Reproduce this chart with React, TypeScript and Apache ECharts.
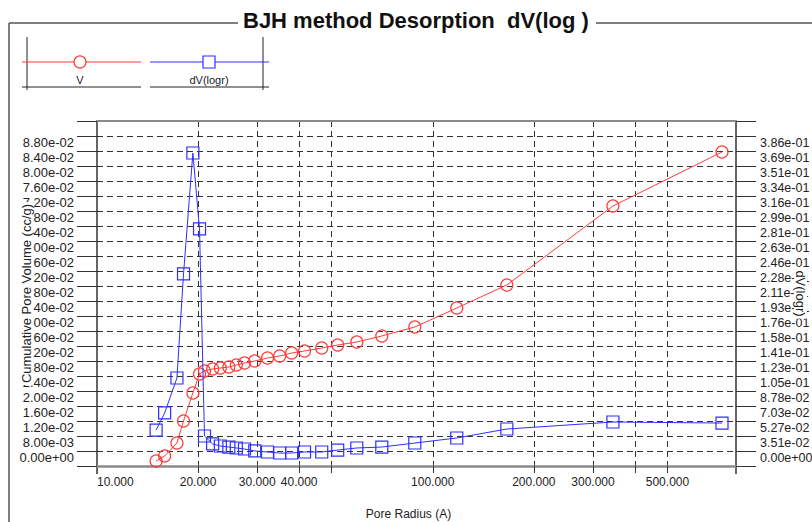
import React, { useEffect, useRef } from 'react';
import * as echarts from 'echarts';

// ---- data ----
const poreRadius = [15.0, 15.9, 17.3, 18.1, 19.3, 20.2, 20.9, 22.1, 23.3, 24.7, 26.0, 27.5, 29.5, 32.2, 35.0, 38.0, 41.5, 46.7, 52.1, 59.4, 70.5, 88.4, 117.9, 166.2, 344.0, 726.8];
const cumulativeVolume = [0.00133, 0.00267, 0.00613, 0.0120, 0.01947, 0.02453, 0.02533, 0.02587, 0.02613, 0.0264, 0.02693, 0.02747, 0.0280, 0.0288, 0.02933, 0.03013, 0.03067, 0.03147, 0.03227, 0.03307, 0.03467, 0.03707, 0.04213, 0.04827, 0.06933, 0.08373];
const dVlogr = [0.0421, 0.0621, 0.1030, 0.2248, 0.3664, 0.2775, 0.0351, 0.0258, 0.0234, 0.0222, 0.0211, 0.0199, 0.0176, 0.0164, 0.0152, 0.0152, 0.0164, 0.0164, 0.0187, 0.0211, 0.0222, 0.0269, 0.0328, 0.0433, 0.0515, 0.0503];

const xLabelValues = [10, 20, 30, 40, 100, 200, 300, 500];
const xTickValues = [20, 30, 40, 50, 100, 200, 300, 400, 500];
const leftTickLabels = ['0.00e+00', '8.00e-03', '1.20e-02', '1.60e-02', '2.00e-02', '2.40e-02', '2.80e-02', '3.20e-02', '3.60e-02', '4.00e-02', '4.40e-02', '4.80e-02', '5.20e-02', '5.60e-02', '6.00e-02', '6.40e-02', '6.80e-02', '7.20e-02', '7.60e-02', '8.00e-02', '8.40e-02', '8.80e-02'];
const rightTickLabels = ['0.00e+00', '3.51e-02', '5.27e-02', '7.03e-02', '8.78e-02', '1.05e-01', '1.23e-01', '1.41e-01', '1.58e-01', '1.76e-01', '1.93e-01', '2.11e-01', '2.28e-01', '2.46e-01', '2.63e-01', '2.81e-01', '2.99e-01', '3.16e-01', '3.34e-01', '3.51e-01', '3.69e-01', '3.86e-01'];

const LEFT_STEP = 0.004;
const RIGHT_STEP = 0.01756;
const STEPS = 23;

const RED = '#ff3b3b';
const BLUE = '#2f2fff';
const FONT = 'Liberation Sans, Arial, sans-serif';

export default function App() {
  const ref = useRef<HTMLDivElement>(null);

  useEffect(() => {
    if (!ref.current) return;
    const chart = echarts.init(ref.current, undefined, { renderer: 'svg' });

    const labelAt = (labels: string[], step: number) => (v: number) => {
      const i = Math.round(v / step);
      return i >= 1 && i <= labels.length ? labels[i - 1] : '';
    };

    const gridLine = { color: '#333', width: 1, type: [6, 4] as any };

    // axis that only carries a name, drawn above the tick labels
    const nameAxis = (position: string, name: string, rotate: number, gap: number) => ({
      type: 'value',
      min: 0,
      max: 1,
      position,
      z: 5,
      name,
      nameLocation: 'middle',
      nameRotate: rotate,
      nameGap: gap,
      nameMoveOverlap: false,
      nameTextStyle: { fontSize: 13, color: '#222', backgroundColor: '#fff', padding: [0, 2, 0, 2] },
      axisLine: { show: false },
      axisTick: { show: false },
      axisLabel: { show: false },
      splitLine: { show: false },
    });

    const option: any = {
      animation: false,
      backgroundColor: '#fff',
      textStyle: { fontFamily: FONT },
      title: {
        text: 'BJH method Desorption  dV(log )',
        left: 243,
        top: 9,
        padding: 0,
        textStyle: { fontSize: 22, fontWeight: 'bold', color: '#111', fontFamily: FONT },
      },
      grid: { left: 97, right: 76, top: 121, bottom: 56, containLabel: false, outerBoundsMode: 'none' },
      xAxis: [
        {
          type: 'log',
          logBase: 10,
          min: 10,
          max: 800,
          position: 'bottom',
          name: 'Pore Radius (A)',
          nameLocation: 'middle',
          nameGap: 42,
          nameMoveOverlap: false,
          nameTextStyle: { fontSize: 12, color: '#222', padding: [0, 16, 0, 0] },
          axisLine: { show: true, onZero: false, lineStyle: { color: '#8a8a8a', width: 2.5 } },
          axisTick: { show: true, customValues: xTickValues, length: 7, lineStyle: { color: '#333' } },
          axisLabel: {
            customValues: xLabelValues,
            formatter: (v: number) => Number(v).toFixed(3),
            margin: 10,
            fontSize: 12,
            color: '#222',
            alignMinLabel: 'left',
          },
          splitLine: { show: true, lineStyle: gridLine },
          minorTick: { show: false },
          minorSplitLine: { show: false },
        },
        {
          type: 'log',
          logBase: 10,
          min: 10,
          max: 800,
          position: 'top',
          axisLine: { show: true, onZero: false, lineStyle: { color: '#8a8a8a', width: 2 } },
          axisTick: { show: false },
          axisLabel: { show: false },
          splitLine: { show: false },
        },
      ],
      yAxis: [
        {
          type: 'value',
          min: 0,
          max: LEFT_STEP * STEPS,
          interval: LEFT_STEP,
          position: 'left',
          axisLine: { show: true, onZero: false, lineStyle: { color: '#333', width: 1.5 } },
          axisTick: { show: true, length: 20, lineStyle: { color: '#333' } },
          axisLabel: {
            formatter: labelAt(leftTickLabels, LEFT_STEP),
            verticalAlign: 'top',
            margin: 23,
            fontSize: 13,
            color: '#222',
          },
          splitLine: { show: true, lineStyle: gridLine },
        },
        {
          type: 'value',
          min: 0,
          max: RIGHT_STEP * STEPS,
          interval: RIGHT_STEP,
          position: 'right',
          axisLine: { show: true, onZero: false, lineStyle: { color: '#333', width: 1.5 } },
          axisTick: { show: true, length: 20, lineStyle: { color: '#333' } },
          axisLabel: {
            formatter: labelAt(rightTickLabels, RIGHT_STEP),
            verticalAlign: 'top',
            margin: 24,
            fontSize: 12.5,
            color: '#222',
          },
          splitLine: { show: false },
        },
        nameAxis('left', 'Cumulative Pore Volume (cc/g)', 90, 64),
        nameAxis('right', 'dV(logr)', -90, 58),
      ],
      series: [
        {
          name: 'V',
          type: 'line',
          xAxisIndex: 0,
          yAxisIndex: 0,
          data: poreRadius.map((r, i) => [r, cumulativeVolume[i]]),
          symbol: 'circle',
          symbolSize: 12,
          itemStyle: { color: 'rgba(255,255,255,0)', borderColor: RED, borderWidth: 1.2 },
          lineStyle: { color: RED, width: 1 },
          z: 3,
        },
        {
          name: 'dV(logr)',
          type: 'line',
          xAxisIndex: 0,
          yAxisIndex: 1,
          data: poreRadius.map((r, i) => [r, dVlogr[i]]),
          symbol: 'rect',
          symbolSize: 12,
          itemStyle: { color: 'rgba(255,255,255,0)', borderColor: BLUE, borderWidth: 1.2 },
          lineStyle: { color: BLUE, width: 1 },
          z: 4,
        },
      ],
      graphic: [
        // outer frame
        { type: 'line', shape: { x1: 9, y1: 23, x2: 9, y2: 522 }, style: { stroke: '#555', lineWidth: 1.5 } },
        { type: 'line', shape: { x1: 9, y1: 23, x2: 238, y2: 23 }, style: { stroke: '#555', lineWidth: 1.5 } },
        { type: 'line', shape: { x1: 596, y1: 23, x2: 812, y2: 23 }, style: { stroke: '#555', lineWidth: 1.5 } },
        // axis line extensions below the x axis
        { type: 'line', shape: { x1: 97, y1: 466, x2: 97, y2: 474 }, style: { stroke: '#333', lineWidth: 1.5 } },
        { type: 'line', shape: { x1: 736, y1: 466, x2: 736, y2: 474 }, style: { stroke: '#333', lineWidth: 1.5 } },
        // legend box
        { type: 'line', shape: { x1: 27, y1: 37, x2: 27, y2: 90 }, style: { stroke: '#222', lineWidth: 1 } },
        { type: 'line', shape: { x1: 263, y1: 37, x2: 263, y2: 90 }, style: { stroke: '#222', lineWidth: 1 } },
        { type: 'line', shape: { x1: 22, y1: 87, x2: 141, y2: 87 }, style: { stroke: '#222', lineWidth: 1 } },
        { type: 'line', shape: { x1: 150, y1: 87, x2: 269, y2: 87 }, style: { stroke: '#222', lineWidth: 1 } },
        { type: 'line', shape: { x1: 22, y1: 62, x2: 141, y2: 62 }, style: { stroke: RED, lineWidth: 1 } },
        { type: 'circle', shape: { cx: 80, cy: 62, r: 6 }, style: { fill: '#fff', stroke: RED, lineWidth: 1.2 } },
        { type: 'text', x: 80, y: 80, style: { text: 'V', fontSize: 11, fontFamily: FONT, fill: '#222', align: 'center', verticalAlign: 'middle' } },
        { type: 'line', shape: { x1: 150, y1: 62, x2: 269, y2: 62 }, style: { stroke: BLUE, lineWidth: 1 } },
        { type: 'rect', shape: { x: 203, y: 56, width: 12, height: 12 }, style: { fill: '#fff', stroke: BLUE, lineWidth: 1.2 } },
        { type: 'text', x: 209, y: 80, style: { text: 'dV(logr)', fontSize: 11, fontFamily: FONT, fill: '#222', align: 'center', verticalAlign: 'middle' } },
      ],
    };

    chart.setOption(option);
    return () => chart.dispose();
  }, []);

  return (
    <div
      ref={ref}
      style={{ position: 'fixed', left: 0, top: 0, width: 812, height: 522, background: '#fff' }}
    />
  );
}
